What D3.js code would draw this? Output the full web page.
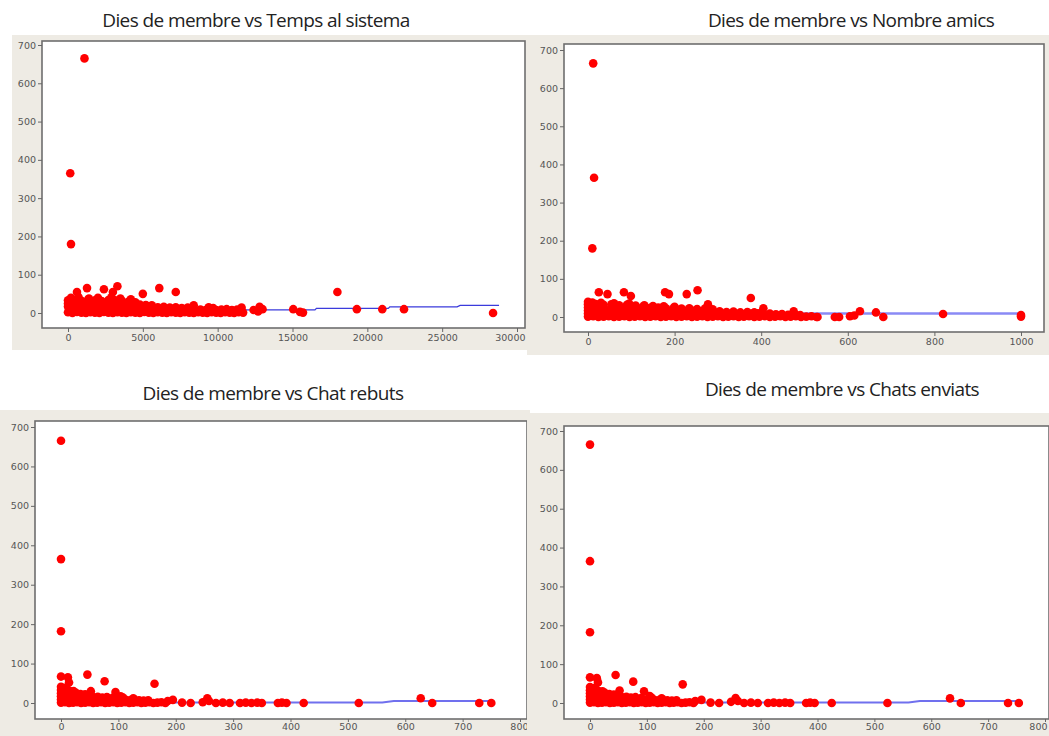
<!DOCTYPE html>
<html><head><meta charset="utf-8">
<script src="https://cdn.jsdelivr.net/npm/d3@7"></script>
<style>
html,body{margin:0;padding:0;background:#fff;}
svg{display:block;}
</style></head>
<body>
<svg id="chart" width="1049" height="736"></svg>
<script>
// ---------- DATA ----------
const titles = [
  "Dies de membre vs Temps al sistema",
  "Dies de membre vs Nombre amics",
  "Dies de membre vs Chat rebuts",
  "Dies de membre vs Chats enviats"
];
const yTicks = [0,100,200,300,400,500,600,700];
const xTicksTemps = [0,5000,10000,15000,20000,25000,30000];
const xTicksAmics = [0,200,400,600,800,1000];
const xTicksChats = [0,100,200,300,400,500,600,700,800];

// [x, dies de membre]
const tempsSistema = [
 [1100,665],[150,365],[200,180],
 [600,55],[1270,65],[2400,62],[3000,55],[3300,70],[5000,50],[6100,65],[7200,55],[8400,20],[9400,15],
 [12400,8],[12700,4],[12800,16],[13000,10],[15050,10],[15500,3],[15700,1],[18000,55],[19300,10],[21000,10],[22450,10],[28400,0],
 [0,2],[300,0],[600,3],[900,1],[1200,0],[1500,2],[1800,1],[2100,0],[2400,3],[2700,1],[3000,0],[3300,2],[3600,1],[3900,0],[4200,2],[4500,1],[4800,0],[5100,3],[5400,1],[5700,0],[6000,2],[6300,1],[6600,0],[6900,2],[7200,1],[7500,0],[7800,2],[8100,1],[8400,0],[8700,2],[9000,1],[9300,0],[9600,2],[9900,1],[10200,0],[10500,2],[10800,1],[11100,0],[11400,2],[11700,1],
 [100,9],[450,10],[800,8],[1150,9],[1500,11],[1850,8],[2200,10],[2550,9],[2900,8],[3250,10],[3600,9],[3950,11],[4300,8],[4650,9],[5000,10],[5350,8],[5700,9],[6050,10],[6400,8],[6750,9],[7100,10],[7450,8],[7800,9],[8150,10],[8500,8],[8850,9],[9200,8],[9550,10],[9900,8],[10250,9],[10600,10],[10950,8],[11300,9],[11600,14],
 [0,17],[400,18],[800,16],[1200,17],[1600,19],[2000,16],[2400,18],[2800,17],[3200,16],[3600,18],[4000,17],[4400,16],[4800,18],[5200,16],[5600,17],[6000,15],[6400,16],[6800,14],[7200,15],[7600,13],[8000,14],[9700,13],
 [0,25],[400,26],[800,24],[1200,27],[1600,25],[2000,24],[2400,26],[2800,25],[3200,27],[3600,24],[4000,25],[4400,23],[4800,22],[5200,21],[5600,20],
 [0,33],[450,34],[900,32],[1350,35],[1800,33],[2250,31],[2700,34],[3150,33],[3600,32],[4050,30],[4500,28],
 [200,40],[700,42],[1400,38],[2000,40],[2900,41],[3500,38],[4200,36]
];
const nombreAmics = [
 [12,665],[14,365],[10,180],
 [25,65],[45,60],[83,65],[99,55],[178,65],[187,60],[228,60],[253,70],[277,33],[376,50],[405,23],[475,15],
 [530,0],[570,0],[580,0],[605,2],[615,4],[628,15],[665,12],[682,0],[820,8],[1000,5],[1000,1],
 [0,1],[12,2],[24,0],[36,1],[48,2],[60,0],[72,1],[84,2],[96,0],[108,1],[120,2],[132,0],[144,1],[156,2],[168,0],[180,1],[192,2],[204,0],[216,1],[228,2],[240,0],[252,1],[264,2],[276,0],[288,1],[300,2],[312,0],[324,1],[336,2],[348,0],[360,1],[372,2],[384,0],[396,1],[408,2],[420,0],[432,1],[444,2],[456,0],[468,1],[480,2],[492,0],[504,1],[516,2],[528,0],
 [0,9],[14,10],[28,8],[42,9],[56,10],[70,8],[84,9],[98,10],[112,8],[126,9],[140,10],[154,8],[168,9],[182,10],[196,8],[210,9],[224,10],[238,8],[252,9],[266,10],[280,8],[294,9],[308,10],[322,8],[336,9],[350,10],[364,8],[378,9],[392,10],[406,8],[420,9],[434,7],[448,8],[462,6],[476,7],[490,5],
 [0,17],[16,18],[32,16],[48,17],[64,18],[80,16],[96,17],[112,18],[128,16],[144,17],[160,18],[176,16],[192,17],[208,18],[224,16],[240,17],[256,15],[272,16],[288,14],[304,15],[320,13],[336,14],[352,12],[368,13],[384,12],[400,11],
 [0,25],[18,26],[36,24],[54,25],[72,26],[90,24],[108,25],[126,26],[144,24],[162,25],[180,23],[198,24],[216,22],[234,23],[252,21],[270,22],[288,20],
 [0,33],[18,34],[36,32],[54,33],[72,31],[90,32],[110,30],[130,31],[150,29],[175,28],[200,27],
 [0,40],[10,38],[30,37],[60,36],[95,35]
];
const chatRebuts = [
 [0,665],[0,365],[0,182],
 [0,67],[12,65],[14,52],[46,72],[52,30],[76,55],[95,28],[104,17],[163,49],
 [186,5],[195,8],[211,1],[226,0],[247,2],[255,12],[258,5],[270,0],[282,1],[294,0],[312,0],[322,1],[332,0],[342,1],[350,0],[378,0],[385,1],[393,0],[423,0],[519,0],[627,12],[647,0],[729,0],[750,0],
 [0,1],[7,2],[14,0],[21,1],[28,2],[35,0],[42,1],[49,2],[56,0],[63,1],[70,2],[77,0],[84,1],[91,2],[98,0],[105,1],[112,2],[119,0],[126,1],[133,2],[140,0],[147,1],[154,2],[161,0],[168,1],[175,2],[182,0],
 [0,9],[8,10],[16,8],[24,9],[32,10],[40,8],[48,9],[56,10],[64,8],[72,9],[80,10],[88,8],[96,9],[104,8],[112,9],[120,7],[128,8],[136,7],[144,6],[152,7],
 [0,17],[8,18],[16,16],[24,17],[32,18],[40,16],[48,17],[56,15],[64,16],[72,14],[80,15],[90,13],[108,14],[126,12],
 [0,25],[6,26],[12,24],[18,25],[26,26],[34,23],[42,22],[50,21],
 [0,33],[5,34],[10,32],[15,31],[22,30],
 [0,41],[4,38],[9,39]
];
const chatsEnviats = [
 [0,665],[0,365],[0,182],
 [0,66],[12,64],[14,53],[45,72],[52,32],[76,55],[95,30],[105,18],[163,48],
 [185,5],[196,8],[212,1],[227,0],[248,3],[256,13],[260,5],[271,0],[283,1],[295,0],[313,0],[323,1],[333,0],[343,1],[352,0],[380,0],[387,1],[395,0],[425,0],[523,0],[633,12],[652,0],[735,0],[754,0],
 [0,1],[7,2],[14,0],[21,1],[28,2],[35,0],[42,1],[49,2],[56,0],[63,1],[70,2],[77,0],[84,1],[91,2],[98,0],[105,1],[112,2],[119,0],[126,1],[133,2],[140,0],[147,1],[154,2],[161,0],[168,1],[175,2],[182,0],
 [0,9],[8,10],[16,8],[24,9],[32,10],[40,8],[48,9],[56,10],[64,8],[72,9],[80,10],[88,8],[96,9],[104,8],[112,9],[120,7],[128,8],[136,7],[144,6],[152,7],
 [0,17],[8,18],[16,16],[24,17],[32,18],[40,16],[48,17],[56,15],[64,16],[72,14],[80,15],[90,13],[108,14],[126,12],
 [0,25],[6,26],[12,24],[18,25],[26,26],[34,23],[42,22],[50,21],
 [0,33],[5,34],[10,32],[15,31],[22,30],
 [0,41],[4,38],[9,39]
];
// smoother lines
const lineTemps = [[0,6],[13000,8],[16500,8],[16600,12],[21400,12],[21500,16],[26000,16],[26200,20],[28800,20]];
const lineAmics = [[0,9],[1000,9]];
const lineRebuts = [[0,1],[560,1],[580,5],[755,5]];
const lineEnviats = [[0,1],[560,1],[580,5],[755,5]];

// ---------- LAYOUT ----------
const panels = [
  {title:titles[0], data:tempsSistema, line:lineTemps, xTicks:xTicksTemps, xDom:[0,30000],
   xr:[68,517], yr:[313,45], frame:[42,41,525,328], bg:[12,35,515,315], tx:256, ty:27,
   lineColor:"#3b3bdc", lineW:1.3, tk:4, pad:2},
  {title:titles[1], data:nombreAmics, line:lineAmics, xTicks:xTicksAmics, xDom:[0,1000],
   xr:[588,1021], yr:[317,50], frame:[564,44,1044,332], bg:[527,35,522,320], tx:851, ty:27,
   lineColor:"#8a8af5", lineW:2.5, tk:4, pad:2},
  {title:titles[2], data:chatRebuts, line:lineRebuts, xTicks:xTicksChats, xDom:[0,800],
   xr:[61,520], yr:[703,427], frame:[35,421,527,719], bg:[0,410,530,326], tx:273, ty:400,
   lineColor:"#7070ee", lineW:2, tk:3, pad:1},
  {title:titles[3], data:chatsEnviats, line:lineEnviats, xTicks:xTicksChats, xDom:[0,800],
   xr:[590,1045], yr:[703,431], frame:[564,426,1049,719], bg:[527,413,522,323], tx:842, ty:396,
   lineColor:"#7070ee", lineW:2, tk:3, pad:1}
];

const svg = d3.select("#chart");
const defs = svg.append("defs");

panels.forEach((p,i)=>{
  const [bx,by,bw,bh] = p.bg;
  defs.append("clipPath").attr("id","clip"+i)
    .append("rect").attr("x",bx).attr("y",by).attr("width",bw).attr("height",bh);
  const [fx0,fy0,fx1,fy1] = p.frame;
  defs.append("clipPath").attr("id","pclip"+i)
    .append("rect").attr("x",fx0).attr("y",fy0).attr("width",fx1-fx0).attr("height",fy1-fy0);

  const g = svg.append("g").attr("clip-path","url(#clip"+i+")");
  g.append("rect").attr("x",bx).attr("y",by).attr("width",bw).attr("height",bh).attr("fill","#eeebe4");
  g.append("rect").attr("x",fx0).attr("y",fy0).attr("width",fx1-fx0).attr("height",fy1-fy0)
    .attr("fill","#fff");

  const x = d3.scaleLinear().domain(p.xDom).range(p.xr);
  const y = d3.scaleLinear().domain([0,700]).range(p.yr);

  const plot = g.append("g").attr("clip-path","url(#pclip"+i+")");
  plot.append("path").datum(p.line)
    .attr("d", d3.line().x(d=>x(d[0])).y(d=>y(d[1])))
    .attr("fill","none").attr("stroke",p.lineColor).attr("stroke-width",p.lineW);
  plot.selectAll("circle").data(p.data).join("circle")
    .attr("cx",d=>x(d[0])).attr("cy",d=>y(d[1])).attr("r",4.3)
    .attr("fill","#f00");

  g.append("rect").attr("x",fx0).attr("y",fy0).attr("width",fx1-fx0).attr("height",fy1-fy0)
    .attr("fill","none").attr("stroke","#6e6e6e").attr("stroke-width",1.6);

  const ya = g.append("g").attr("transform",`translate(${fx0},0)`)
    .call(d3.axisLeft(y).tickValues(yTicks).tickSize(4).tickPadding(2).tickFormat(d3.format("d")));
  const xa = g.append("g").attr("transform",`translate(0,${fy1})`)
    .call(d3.axisBottom(x).tickValues(p.xTicks).tickSize(p.tk).tickPadding(p.pad).tickFormat(d3.format("d")));
  [ya,xa].forEach(a=>{
    a.select(".domain").remove();
    a.selectAll(".tick line").attr("stroke","#666");
    a.selectAll(".tick text").attr("fill","#555").style("font-family","DejaVu Sans, sans-serif").style("font-size","9.5px");
  });
  // keep the last x label inside the picture when it reaches the right edge
  const edge = bx + bw - 2;
  xa.selectAll(".tick text").filter(d=>x(d)+12>edge)
    .attr("text-anchor","end").attr("dx",d=>edge - x(d));

  svg.append("text").attr("x",p.tx).attr("y",p.ty).attr("text-anchor","middle")
    .style("font-family","'Open Sans', sans-serif").style("font-size","19px")
    .style("letter-spacing","-0.6px").attr("fill","#222").text(p.title);
});
</script>
</body></html>
